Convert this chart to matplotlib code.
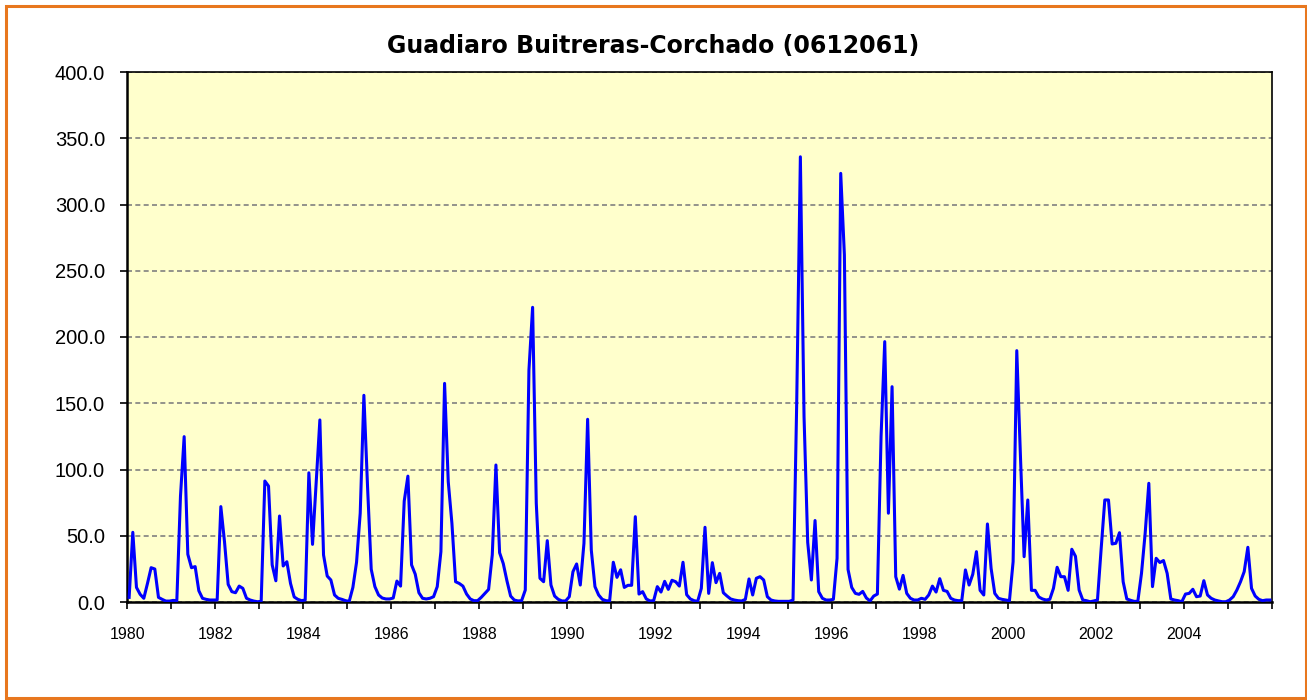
import numpy as np
import matplotlib
matplotlib.use("Agg")
import matplotlib.pyplot as plt
from matplotlib.patches import Rectangle

# monthly flow, split by decade for readability
flow_1980s = [3.5, 52.6, 11, 5.8, 2.8, 14, 25.9, 24.9, 3.5, 2, 0.7, 0.7,
              1.2, 1, 80, 124.8, 36, 25.9, 26.7, 8.5, 2.8, 2, 1.5, 1.5,
              1.5, 72, 45.5, 13.3, 7.8, 7, 12, 10.3, 2.8, 1.5, 0.7, 0.2,
              0.5, 91.3, 87.5, 28, 16, 64.9, 27.2, 30.4, 14, 3.8, 2, 1,
              1.5, 97.5, 43.5, 90, 137.4, 35.5, 19.6, 16.6, 5.3, 2.8, 2, 1,
              0.5, 11, 30, 67, 156, 87, 24.7, 11.6, 5.3, 3, 2.3, 2.3,
              3, 15.8, 12, 76.2, 95, 28, 21, 7, 2.8, 2.3, 2.8, 4,
              11.6, 38, 165, 90.8, 59.4, 15.3, 14, 12, 6, 2.3, 1, 1,
              3.5, 6.5, 9.5, 35.5, 103.4, 37.2, 29, 16, 4.5, 1.5, 0.8, 1,
              9, 175, 222.4, 74.5, 17.9, 15.3, 46.3, 12.8, 4.5, 2, 0.8, 0.8]
flow_1990s = [4, 22.9, 28.7, 12.8, 44.3, 137.9, 39.2, 11.6, 5.3, 2, 1, 0.8,
              30, 18.6, 24.3, 11, 12.6, 12.6, 64.4, 6, 7.8, 2.3, 0.8, 1,
              11.6, 7.5, 15.6, 9.5, 16.4, 15.3, 12, 30, 5.5, 2.3, 1, 0.5,
              10.3, 56.4, 6.5, 29.7, 14.6, 21.6, 7, 4.5, 2.3, 1.5, 1, 0.8,
              2, 17.4, 5.3, 17.9, 19.1, 16.6, 4, 1.5, 0.8, 0.5, 0.5, 0.5,
              0.5, 1.5, 150, 336, 140, 45, 16.6, 61.5, 7.8, 2.8, 1.5, 1.5,
              2, 33, 323.5, 262, 24.5, 11, 6.5, 5.8, 8, 3, 0.8, 4.5,
              6, 125, 196.5, 67, 162.5, 19.1, 9.7, 20.1, 6.5, 2.8, 1.5, 1.5,
              2.8, 2, 5.3, 12, 7.5, 17.6, 8.8, 8, 2.8, 1.5, 1, 1,
              24.2, 12.8, 20.9, 38, 8.8, 5.3, 58.9, 25.4, 6.5, 2.8, 2, 1.5]
flow_2000s = [1, 30.4, 189.7, 110, 34.2, 77, 8.8, 8.8, 3.8, 2.3, 1.5, 2,
              10.3, 26.2, 19.1, 19.1, 8.8, 39.8, 34.5, 9, 1.5, 1, 0.2, 0.8,
              1.5, 40, 77, 77, 43.8, 44.3, 52.3, 15.3, 2.3, 1.3, 0.5, 0.5,
              21.6, 51.8, 89.6, 11.6, 33, 29.8, 31.3, 21.6, 2.3, 1.5, 1, 0.2,
              6, 6.5, 9.6, 4, 4.5, 16.1, 5.3, 2.8, 1.5, 0.8, 0.2, 0.2,
              1.5, 4, 9, 15.3, 22.9, 41.3, 10.3, 4.5, 2, 1, 1.5, 1.5]

years = list(range(1980, 2006, 2))
title = "Guadiaro Buitreras-Corchado (0612061)"

flow = np.array(flow_1980s + flow_1990s + flow_2000s)
n = len(flow)

fig = plt.figure(figsize=(13.07, 7.0), dpi=100)
ax = fig.add_axes([127.3 / 1307, 1 - 602 / 700, (1271.7 - 127.3) / 1307, 530 / 700])
ax.set_facecolor("#FFFFCC")

ax.plot(np.arange(n), flow, color="#0000FF", lw=2.2, zorder=3)

ax.set_xlim(-0.5, n - 0.5)
ax.set_ylim(0, 400)
ax.set_yticks(np.arange(0, 401, 50))
ax.set_yticklabels(["%.1f" % v for v in np.arange(0, 401, 50)],
                   fontsize=14.5, family="Liberation Sans")
ax.set_xticks([-0.5 + 12 * k for k in range(0, 25, 2)])
ax.set_xticklabels([str(y) for y in years], fontsize=11.5, family="Liberation Sans")
ax.set_xticks([-0.5 + 12 * k for k in range(27)], minor=True)
ax.tick_params(axis="both", which="both", direction="out", length=5, width=1.2, color="black")
ax.tick_params(axis="x", pad=13)
ax.tick_params(axis="y", pad=11)

ax.grid(axis="y", color="#808080", linestyle=(0, (3, 2)), lw=1.2, zorder=1)
for s in ax.spines.values():
    s.set_color("black")
    s.set_linewidth(1.2)
ax.spines["left"].set_linewidth(1.8)
ax.spines["bottom"].set_linewidth(1.8)

fig.text(0.5, 1 - 46 / 700, title, ha="center", va="center",
         fontsize=17, fontweight="bold", family="DejaVu Sans")

# orange frame around the chart
fig.patches.append(Rectangle((5.5 / 1307, 2 / 700), 1300 / 1307, 692 / 700,
                             transform=fig.transFigure, fill=False,
                             edgecolor="#E8771E", lw=2.2))

fig.savefig("out.png", dpi=100)
